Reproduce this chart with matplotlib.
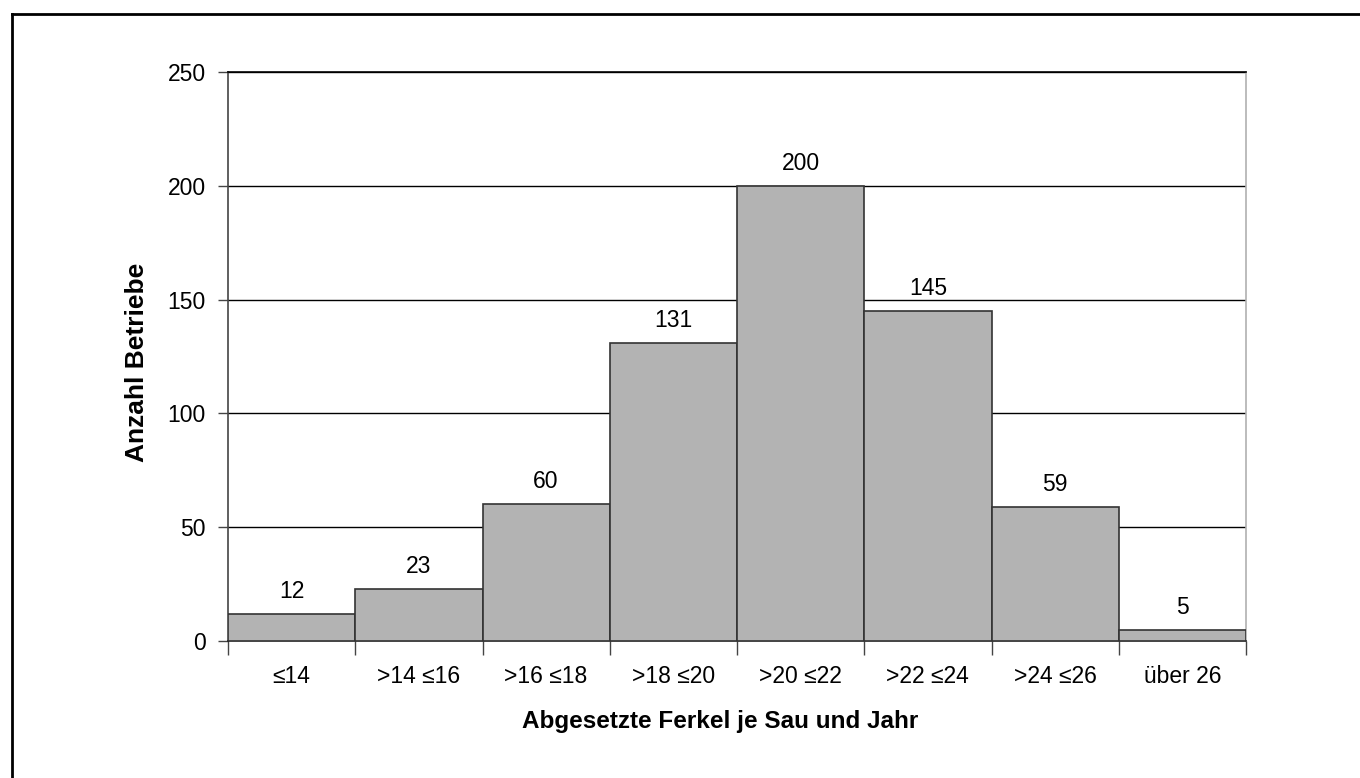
import matplotlib
matplotlib.use("Agg")
import matplotlib.pyplot as plt
from matplotlib.lines import Line2D

categories = ["≤14", ">14 ≤16", ">16 ≤18", ">18 ≤20", ">20 ≤22", ">22 ≤24", ">24 ≤26", "über 26"]
values = [12, 23, 60, 131, 200, 145, 59, 5]
yticks = [0, 50, 100, 150, 200, 250]

plt.rcParams['font.family'] = ['Liberation Sans', 'DejaVu Sans']

W, H = 1360, 778
fig = plt.figure(figsize=(W/100, H/100), dpi=100)
ax = fig.add_axes([228/W, 1-641/H, (1246-228)/W, (641-72)/H])

x = list(range(len(categories)))
ax.bar(x, values, width=1.0, color="#b3b3b3", edgecolor="#333333", linewidth=1.2, zorder=3)
for xi, v in zip(x, values):
    ax.annotate(str(v), (xi, v), xytext=(0, 8), textcoords="offset points",
                ha="center", va="bottom", fontsize=16.5, zorder=4)

ax.set_xlim(-0.5, len(categories)-0.5)
ax.set_ylim(0, 250)
ax.set_yticks(yticks)
ax.set_yticklabels([str(t) for t in yticks], fontsize=16.5)
ax.yaxis.grid(True, color="black", linewidth=1, zorder=0)
ax.set_axisbelow(True)

# x ticks at category boundaries, labels at centers
ax.set_xticks([i - 0.5 for i in range(len(categories)+1)])
ax.set_xticklabels([])
ax.set_xticks(x, minor=True)
ax.set_xticklabels(categories, minor=True, fontsize=16.5)
ax.tick_params(axis='x', which='major', length=10, width=1, color="#444444", direction='out')
ax.tick_params(axis='x', which='minor', length=0, pad=17)
ax.tick_params(axis='y', length=7, width=1, color="#444444", pad=9)

ax.spines['left'].set_color("#444444")
ax.spines['bottom'].set_color("#222222")
ax.spines['right'].set_color("#b0b0b0")
ax.spines['top'].set_color("black")
for s in ax.spines.values():
    s.set_linewidth(1.2)

ax.set_ylabel("Anzahl Betriebe", fontsize=19, fontweight='bold', labelpad=13)
ax.yaxis.label.set_y(0.49)
ax.set_xlabel("Abgesetzte Ferkel je Sau und Jahr", fontsize=17.5, fontweight='bold', labelpad=16)
ax.xaxis.label.set_x(0.483)

# outer frame (left and top edge visible)
fig.add_artist(Line2D([11.5/W, 11.5/W], [0, 1-14/H], transform=fig.transFigure, color="black", linewidth=2))
fig.add_artist(Line2D([11.5/W, 1], [1-14/H, 1-14/H], transform=fig.transFigure, color="black", linewidth=2))

fig.savefig("out.png", dpi=100)
